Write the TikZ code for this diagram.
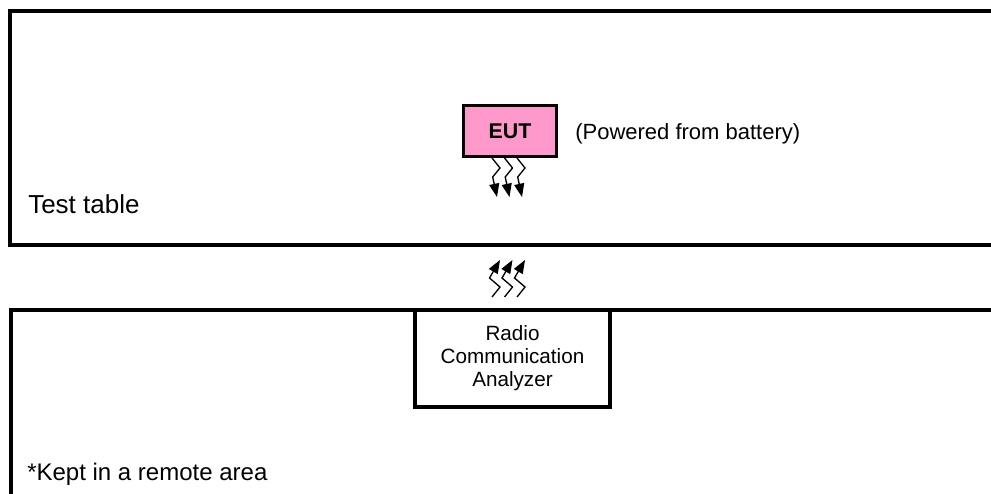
\documentclass[tikz,border=0pt]{standalone}
\usepackage{fontspec}
\setmainfont{Liberation Sans}
\usetikzlibrary{arrows.meta}
\definecolor{eutpink}{RGB}{255,153,204}
\tikzset{
  area/.style={draw,line width=3pt},
  label/.style={anchor=base west,inner sep=0pt},
  wave/.style={line width=1pt,-{Triangle[length=10pt,width=7.5pt]}}
}
\begin{document}
\begin{tikzpicture}[x=0.75pt,y=-0.75pt]
        % Frame
        \useasboundingbox (0,0) rectangle (991,493);
        \clip (0,0) rectangle (991,493);
        % Test table
        \draw[area] (10,11) rectangle (1010,245);
        \node[label,font=\fontsize{19.5}{23}\selectfont] (table) at (28,213) {Test table};
        % EUT on the table
        \node[draw,line width=2.5pt,fill=eutpink,minimum width=70pt,minimum height=38pt,
              font=\fontsize{16}{19}\bfseries] (eut) at (510,131) {EUT};
        \node[label,font=\fontsize{16.5}{20}\selectfont] (power) at (575,139) {(Powered from battery)};
        \foreach \dx in {0,12.5,25}
            \draw[wave] (492+\dx,158) -- (500+\dx,168) -- (492.7+\dx,177) -- (497+\dx,197);
        % Remote area
        \draw[area] (11,309.5) rectangle (1010,520);
        \foreach \dx in {0,12.5,25}
            \draw[wave] (492+\dx,297) -- (500+\dx,287) -- (489.5+\dx,278) -- (500+\dx,260);
        \node[draw,line width=2.6pt,minimum width=146pt,minimum height=73pt,align=center,
              font=\fontsize{15.5}{17.25}\selectfont] (rca) at (512.5,358.5) {Radio\\Communication\\Analyzer};
        \node[label,font=\fontsize{18}{22}\selectfont] (remote) at (27,480) {*Kept in a remote area};
    \end{tikzpicture}
\end{document}
